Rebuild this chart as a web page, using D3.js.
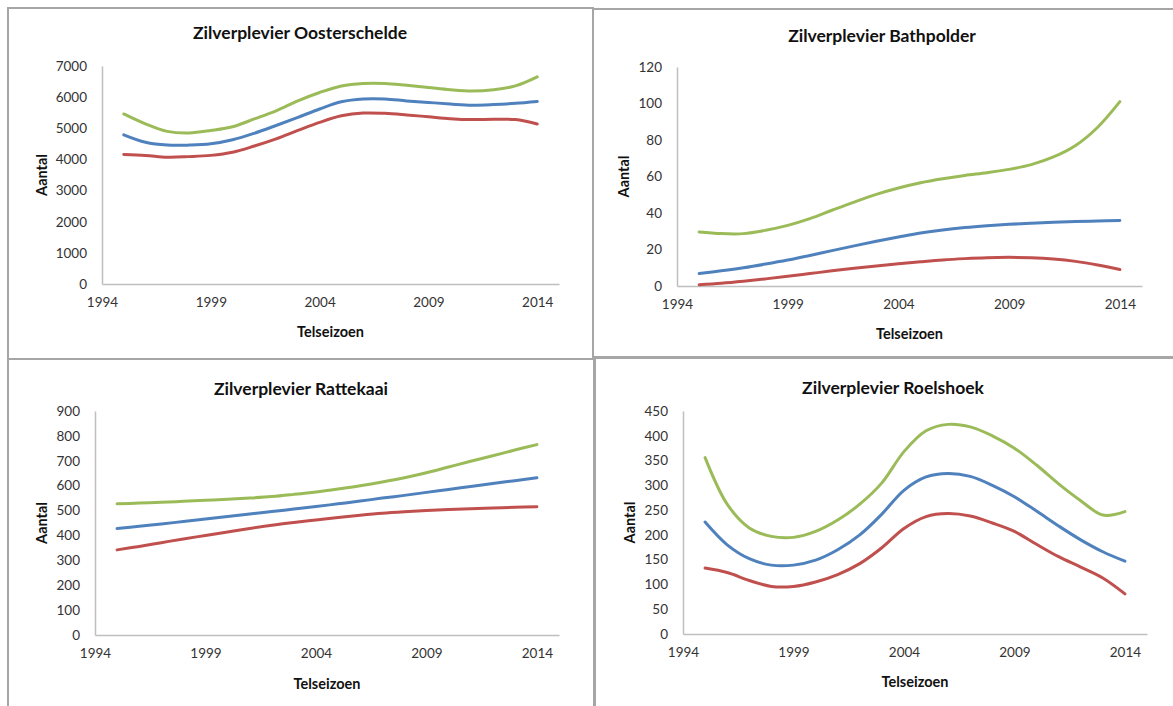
<!DOCTYPE html>
<html>
<head>
<meta charset="utf-8">
<script src="https://cdn.jsdelivr.net/npm/d3@7"></script>
<style>
  body { margin: 0; background: #fff; }
  text { font-family: Lato, "Open Sans", sans-serif; }
</style>
</head>
<body>
<div id="app"></div>
<script>
// seasons 1995..2014
const years = d3.range(1995, 2015);
const tickYears = [1994, 1999, 2004, 2009, 2014];

// Oosterschelde
const oostGreen = [5460, 5140, 4900, 4850, 4930, 5050, 5300, 5560, 5880, 6150, 6360, 6440, 6440, 6380, 6310, 6240, 6200, 6240, 6360, 6650];
const oostBlue  = [4790, 4550, 4460, 4460, 4500, 4630, 4840, 5090, 5350, 5620, 5850, 5940, 5940, 5880, 5830, 5780, 5740, 5760, 5800, 5860];
const oostRed   = [4160, 4130, 4070, 4090, 4130, 4230, 4430, 4660, 4930, 5190, 5400, 5490, 5480, 5430, 5370, 5310, 5280, 5290, 5280, 5140];

// Bathpolder
const bathGreen = [29.6, 28.7, 28.7, 30.5, 33.2, 36.9, 41.5, 46, 50.2, 53.7, 56.6, 58.8, 60.6, 62.1, 63.9, 66.5, 70.7, 77, 87, 101];
const bathBlue  = [6.8, 8.3, 10, 12, 14.2, 16.7, 19.4, 22, 24.5, 26.8, 29, 30.7, 32, 33, 33.8, 34.4, 34.9, 35.3, 35.6, 35.9];
const bathRed   = [0.7, 1.5, 2.6, 3.9, 5.3, 6.8, 8.3, 9.7, 11, 12.2, 13.3, 14.3, 15, 15.5, 15.7, 15.5, 14.8, 13.5, 11.5, 9];

// Rattekaai
const rattGreen = [527, 530, 533, 537, 541, 545, 550, 556, 565, 575, 587, 600, 615, 632, 652, 675, 698, 720, 743, 765];
const rattBlue  = [428, 437, 446, 456, 466, 476, 486, 496, 506, 516, 527, 538, 550, 561, 573, 585, 597, 609, 620, 632];
const rattRed   = [342, 356, 371, 386, 400, 414, 428, 441, 452, 462, 472, 481, 489, 495, 500, 504, 507, 510, 513, 515];

// Roelshoek
const roelGreen = [356, 262, 214, 197, 195, 207, 230, 262, 305, 368, 410, 423, 418, 400, 375, 341, 303, 269, 240, 247];
const roelBlue  = [226, 180, 152, 139, 139, 149, 170, 200, 242, 290, 317, 324, 318, 300, 277, 248, 218, 190, 166, 147];
const roelRed   = [133, 124, 108, 96, 96, 105, 120, 142, 174, 213, 237, 243, 238, 224, 207, 181, 156, 135, 113, 81];

const yTicks1 = d3.range(0, 7001, 1000);
const yTicks2 = d3.range(0, 121, 20);
const yTicks3 = d3.range(0, 901, 100);
const yTicks4 = d3.range(0, 451, 50);

const GREEN = '#9bbb59', BLUE = '#4f81bd', RED = '#c0504d';

// panel layout (frame + plot area in page pixels)
const panels = [
  { title: 'Zilverplevier Oosterschelde', frame: [8, 8, 593, 359],
    x0: 102, x1: 559, y0: 284, y1: 66, ymax: 7000, ticks: yTicks1,
    series: [oostGreen, oostBlue, oostRed], titleX: 300, titleY: 39, aantalX: 42, telY: 337 },
  { title: 'Zilverplevier Bathpolder', frame: [593, 9, 1180, 357],
    x0: 677, x1: 1142, y0: 286, y1: 67, ymax: 120, ticks: yTicks2,
    series: [bathGreen, bathBlue, bathRed], titleX: 882, titleY: 42, aantalX: 624, telY: 339 },
  { title: 'Zilverplevier Rattekaai', frame: [8, 359, 594, 720],
    x0: 95, x1: 559, y0: 635, y1: 411, ymax: 900, ticks: yTicks3,
    series: [rattGreen, rattBlue, rattRed], titleX: 301, titleY: 395, aantalX: 42, telY: 689 },
  { title: 'Zilverplevier Roelshoek', frame: [595, 358, 1180, 720],
    x0: 683, x1: 1147, y0: 634, y1: 411, ymax: 450, ticks: yTicks4,
    series: [roelGreen, roelBlue, roelRed], titleX: 893, titleY: 394, aantalX: 630, telY: 687 }
];

const svg = d3.select('#app').append('svg')
  .attr('width', 1173).attr('height', 706);

panels.forEach(p => {
  const g = svg.append('g');
  const [fx0, fy0, fx1, fy1] = p.frame;

  g.append('rect')
    .attr('x', fx0).attr('y', fy0)
    .attr('width', fx1 - fx0).attr('height', fy1 - fy0)
    .attr('fill', 'none').attr('stroke', '#a6a6a6').attr('stroke-width', 2);

  const x = d3.scaleLinear().domain([1994, 2015]).range([p.x0, p.x1]);
  const y = d3.scaleLinear().domain([0, p.ymax]).range([p.y0, p.y1]);

  // y axis
  const ya = g.append('g').attr('transform', `translate(${p.x0},0)`)
    .call(d3.axisLeft(y).tickValues(p.ticks).tickFormat(d3.format('d')).tickSize(0).tickPadding(15));
  ya.select('.domain').attr('stroke', '#bfbfbf').attr('stroke-width', 1.5);
  ya.selectAll('text').attr('font-size', 13.5).attr('fill', '#333');

  // x axis
  const xa = g.append('g').attr('transform', `translate(0,${p.y0})`)
    .call(d3.axisBottom(x).tickValues(tickYears).tickFormat(d3.format('d')).tickSize(0).tickPadding(13));
  xa.select('.domain').attr('stroke', '#bfbfbf').attr('stroke-width', 1.5);
  xa.selectAll('text').attr('font-size', 13.5).attr('fill', '#333');

  // lines
  const line = d3.line()
    .x((d, i) => x(years[i]))
    .y(d => y(d))
    .curve(d3.curveCatmullRom.alpha(0.5));
  [GREEN, BLUE, RED].forEach((c, k) => {
    g.append('path')
      .datum(p.series[k])
      .attr('d', line)
      .attr('fill', 'none')
      .attr('stroke', c)
      .attr('stroke-width', 3)
      .attr('stroke-linecap', 'round');
  });

  // titles
  g.append('text')
    .attr('x', p.titleX).attr('y', p.titleY)
    .attr('text-anchor', 'middle')
    .attr('font-size', 17.5).attr('font-weight', 'bold').attr('fill', '#111')
    .text(p.title);

  g.append('text')
    .attr('transform', `translate(${p.aantalX},${(p.y0 + p.y1) / 2}) rotate(-90)`)
    .attr('text-anchor', 'middle').attr('dy', '0.35em')
    .attr('font-size', 14.5).attr('font-weight', 'bold').attr('fill', '#111')
    .text('Aantal');

  g.append('text')
    .attr('x', (p.x0 + p.x1) / 2).attr('y', p.telY)
    .attr('text-anchor', 'middle')
    .attr('font-size', 14.5).attr('font-weight', 'bold').attr('fill', '#111')
    .text('Telseizoen');
});
</script>
</body>
</html>
